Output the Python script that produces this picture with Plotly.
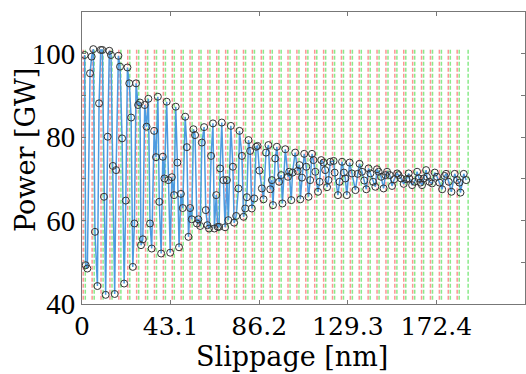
import plotly.graph_objects as go

# ---- data ----
slippage_nm = [
    1.3, 1.8, 2.6, 3.9, 4.7, 5.5, 6.3, 7.5, 8.3, 9.1, 9.9, 10.7, 11.5, 12.5, 13.3, 14.1, 15.0, 15.9, 16.6, 17.7,
    18.5, 19.5, 20.5, 21.3, 22.1, 23.0, 23.9, 24.7, 25.5, 26.3, 27.3, 28.2, 28.7, 29.6, 30.5, 31.4, 32.3, 33.1,
    33.9, 35.1, 36.0, 36.9, 37.6, 38.5, 39.3, 40.1, 41.2, 42.0, 42.9, 43.7, 44.8, 45.6, 46.4, 47.2, 48.1, 49.0,
    50.2, 51.0, 51.8, 52.6, 53.4, 54.2, 55.0, 55.9, 56.6, 57.5, 58.3, 59.4, 60.2, 61.0, 61.8, 62.8, 63.7, 64.4,
    65.3, 66.0, 66.7, 67.2, 68.0, 68.8, 69.6, 70.5, 71.2, 72.4, 73.4, 74.0, 75.0, 76.1, 76.6, 77.8, 78.6, 79.4,
    80.2, 81.0, 81.8, 82.6, 83.8, 84.7, 85.4, 86.3, 87.5, 88.3, 89.5, 90.7, 91.6, 92.4, 92.9, 94.0, 94.8, 95.9,
    96.9, 97.5, 98.9, 100.2, 100.8, 101.8, 102.4, 103.7, 104.9, 105.8, 106.2, 107.0, 108.1, 109.1, 110.2, 111.0,
    111.9, 112.6, 113.5, 114.8, 115.6, 116.4, 117.5, 118.3, 119.2, 119.9, 120.8, 122.4, 122.9, 124.5, 125.3,
    126.5, 127.4, 128.1, 128.8, 130.2, 131.3, 133.0, 134.1, 135.0, 136.2, 137.3, 138.3, 139.4, 140.3, 141.6,
    142.7, 143.5, 144.3, 145.5, 146.7, 147.6, 148.4, 149.7, 150.8, 151.9, 153.3, 154.0, 155.2, 156.5, 157.8,
    158.9, 159.2, 160.6, 161.8, 163.0, 163.8, 164.6, 165.4, 166.2, 167.4, 167.8, 169.0, 170.3, 171.6, 172.7,
    173.9, 175.2, 176.4, 177.1, 178.4, 179.7, 181.3, 182.5, 183.6, 184.1, 185.7, 186.9,
]
power_gw = [
    99.7, 49.3, 48.5, 95.3, 99.3, 101.1, 57.3, 44.3, 88.1, 100.9, 100.9, 65.7, 42.2, 80.1, 100.7, 99.7, 73.1, 42.4, 72.1, 99.5,
    96.9, 79.7, 44.9, 64.8, 96.7, 92.9, 84.7, 48.9, 59.3, 92.9, 87.7, 88.3, 54.1, 55.5, 87.7, 82.5, 89.2, 59.3,
    53.3, 81.5, 75.2, 89.7, 64.5, 52.1, 75.3, 70.1, 88.5, 69.7, 52.3, 70.4, 66.1, 87.3, 73.9, 53.6, 66.4, 63.0,
    84.9, 77.6, 56.1, 63.0, 60.3, 81.9, 80.5, 59.3, 60.3, 58.7, 78.7, 82.4, 62.5, 58.9, 58.1, 75.5, 83.3, 58.1,
    66.1, 58.5, 58.5, 72.5, 83.5, 69.7, 58.4, 69.7, 60.1, 82.7, 72.9, 59.5, 61.1, 67.7, 81.5, 75.5, 60.9, 62.9,
    65.6, 79.3, 76.7, 62.9, 65.3, 77.7, 77.9, 72.0, 67.7, 65.1, 76.3, 78.1, 67.5, 69.7, 63.7, 74.9, 77.7, 69.3,
    70.9, 64.1, 77.1, 70.5, 71.7, 64.9, 71.5, 76.3, 71.9, 73.3, 65.1, 70.3, 76.0, 72.9, 65.7, 69.7,
    76.0, 74.5, 71.7, 66.9, 69.3, 74.5, 73.9, 72.1, 68.0, 69.7, 74.1, 74.3, 71.5, 66.1, 69.3,
    74.1, 71.5, 70.1, 66.1, 73.9, 71.3, 67.3, 71.2, 73.6, 71.7, 69.6, 67.5, 72.5, 71.3, 69.3,
    68.1, 72.3, 71.7, 70.5, 67.7, 70.9, 71.7, 70.9, 68.3, 69.9, 71.3, 70.9, 70.1, 68.8, 69.9,
    71.3, 70.1, 68.5, 69.3, 71.7, 70.1, 69.1, 68.5, 70.1, 72.1, 70.5, 69.3, 68.9, 71.5, 70.5,
    69.1, 67.5, 70.7, 71.2, 69.3, 66.9, 71.2, 69.7, 69.1, 66.7, 71.2, 69.7,
]

x_tick_values = [0, 43.1, 86.2, 129.3, 172.4]
x_tick_labels = ["0", "43.1", "86.2", "129.3", "172.4"]
y_tick_values = [40, 50, 60, 70, 80, 90, 100, 110]
y_tick_labels = ["40", "", "60", "", "80", "", "100", ""]

# periodic reference lines (period of the oscillation)
line_period = 4.331
red_first = 0.6
green_first = 1.6
red_count = 43
green_count = 44
line_bottom = 41.0
line_top = 101.3

red_x = [red_first + line_period * k for k in range(red_count)]
green_x = [green_first + line_period * k for k in range(green_count)]


def vlines(xs):
    xx, yy = [], []
    for v in xs:
        xx += [v, v, None]
        yy += [line_bottom, line_top, None]
    return xx, yy


fig = go.Figure()
rx, ry = vlines(red_x)
gx, gy = vlines(green_x)
fig.add_trace(go.Scatter(x=rx, y=ry, mode="lines", hoverinfo="skip",
                         line=dict(color="rgba(255,90,90,0.65)", width=1.5, dash="4px,2px")))
fig.add_trace(go.Scatter(x=gx, y=gy, mode="lines", hoverinfo="skip",
                         line=dict(color="rgba(60,220,60,0.6)", width=1.5, dash="4px,2px")))
fig.add_trace(go.Scatter(x=slippage_nm, y=power_gw, mode="lines+markers",
                         line=dict(color="#4d9be0", width=1.5),
                         marker=dict(symbol="circle-open", size=7, color="#333333",
                                     line=dict(width=1, color="#333333"))))

axis_common = dict(showgrid=False, zeroline=False, showline=True, linecolor="#777777", linewidth=1,
                   mirror="allticks", ticks="inside", ticklen=4, tickcolor="#777777",
                   automargin=False)

fig.update_xaxes(range=[0, 215.5], tickvals=x_tick_values, ticktext=x_tick_labels,
                 tickfont=dict(family="DejaVu Serif", size=25, color="black"), **axis_common)
fig.update_yaxes(range=[40, 110], tickvals=y_tick_values, ticktext=y_tick_labels,
                 tickfont=dict(family="Liberation Serif", size=29, color="black"), **axis_common)

fig.add_annotation(text="Slippage [nm]", xref="paper", yref="paper", x=0.474, y=-0.18,
                   xanchor="center", yanchor="middle", showarrow=False,
                   font=dict(family="DejaVu Serif", size=27, color="black"))
fig.add_annotation(text="Power [GW]", xref="paper", yref="paper", x=-0.129, y=0.527,
                   xanchor="center", yanchor="middle", showarrow=False, textangle=-90,
                   font=dict(family="DejaVu Serif", size=27, color="black"))

fig.update_layout(width=526, height=374, margin=dict(l=82, r=1, t=12, b=70, autoexpand=False),
                  paper_bgcolor="white", plot_bgcolor="white", showlegend=False)

fig.write_html("out.html", config={"displayModeBar": False},
               post_script="document.body.style.margin='0';document.body.style.overflow='hidden';")
